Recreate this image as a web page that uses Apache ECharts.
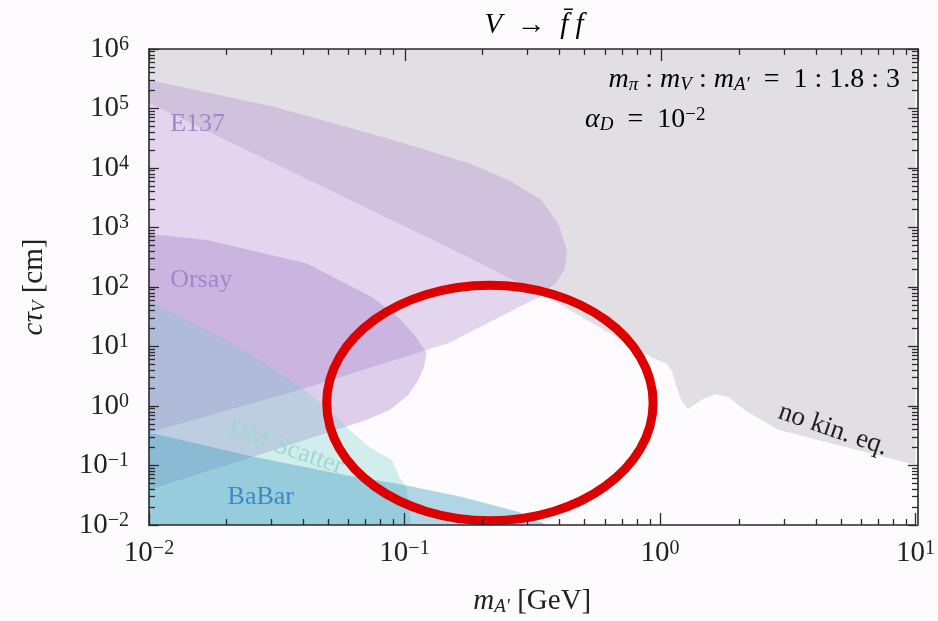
<!DOCTYPE html>
<html>
<head>
<meta charset="utf-8">
<script src="https://cdn.jsdelivr.net/npm/echarts@6/dist/echarts.min.js"></script>
<style>
  html, body { margin: 0; padding: 0; background: #fdfbfd; }
  #chart { width: 938px; height: 621px; }
</style>
</head>
<body>
<div id="chart"></div>
<script>
// region outlines as [m_A' (GeV), c tau_V (cm)]
var noKinEq = [[0.01, 1e6], [10, 1e6], [10, 0.102], [2.90, 0.40], [2.42, 0.63], [2.15, 0.85],
  [1.85, 1.41], [1.64, 1.57], [1.45, 1.26], [1.29, 0.89], [1.21, 1.26], [1.16, 2.1], [1.11, 4.0],
  [1.06, 5.2], [0.925, 6.6], [0.391, 56], [0.179, 314], [0.0241, 2.0e4], [0.01, 1.24e5]];
var e137 = [[0.01, 3.0e5], [0.0305, 1.08e5], [0.0849, 3.2e4], [0.179, 1.2e4], [0.256, 6.3e3],
  [0.344, 2.9e3], [0.402, 1.1e3], [0.432, 414], [0.424, 196], [0.391, 117], [0.336, 68],
  [0.281, 46], [0.149, 11.5], [0.0388, 1.86], [0.01, 0.36]];
var orsay = [[0.01, 776], [0.0168, 617], [0.0413, 251], [0.0748, 67], [0.0953, 30], [0.110, 15],
  [0.122, 7.8], [0.119, 4.4], [0.112, 2.5], [0.103, 1.5], [0.0872, 0.85], [0.0709, 0.58],
  [0.0284, 0.162], [0.01, 0.039]];
var dmScatter = [[0.01, 60], [0.0237, 8.7], [0.0407, 1.86], [0.0532, 0.71], [0.0608, 0.40],
  [0.0728, 0.204], [0.0895, 0.123], [0.0953, 0.065], [0.1016, 0.044], [0.106, 0.01], [0.01, 0.01]];
var babar = [[0.01, 0.36], [0.0248, 0.144], [0.0582, 0.069], [0.0953, 0.049], [0.168, 0.0295],
  [0.281, 0.0166], [0.360, 0.01], [0.01, 0.01]];

var xMajor = [0.01, 0.1, 1, 10];
var yMajor = [1e-2, 1e-1, 1, 10, 1e2, 1e3, 1e4, 1e5, 1e6];

// red ring drawn over the plot (box corners in data units)
var ringX = [0.0496, 0.94];
var ringY = [0.0118, 107];

var FONT = 'Liberation Serif';

function minors(lo, hi) {
  var out = [];
  for (var d = lo; d < hi; d *= 10) {
    for (var k = 2; k <= 9; k++) out.push(+(k * d).toPrecision(3));
  }
  return out;
}
var xMinor = minors(0.01, 10);
var yMinor = minors(0.01, 1e6);

function pow10(v) {
  var e = Math.round(Math.log10(v));
  return '{b|10}{s|' + (e < 0 ? '\u2212' + (-e) : e) + '}';
}
var tickRich = {
  b: { fontFamily: FONT, fontSize: 29, color: '#222' },
  s: { fontFamily: FONT, fontSize: 20, color: '#222', verticalAlign: 'top', padding: [0, 0, 8, 0] }
};
var mathRich = {
  i: { fontFamily: FONT, fontStyle: 'italic', fontWeight: 'normal', fontSize: 29, color: '#222' },
  r: { fontFamily: FONT, fontWeight: 'normal', fontSize: 29, color: '#222' },
  sub: { fontFamily: FONT, fontStyle: 'italic', fontWeight: 'normal', fontSize: 19, color: '#222', verticalAlign: 'bottom', padding: [8, 0, 0, 0] }
};
var noteRich = {
  i: { fontFamily: FONT, fontStyle: 'italic', fontSize: 28, color: '#222' },
  r: { fontFamily: FONT, fontSize: 28, color: '#222' },
  sub: { fontFamily: FONT, fontStyle: 'italic', fontSize: 19, color: '#222', verticalAlign: 'bottom', padding: [8, 0, 0, 0] },
  sup: { fontFamily: FONT, fontSize: 19, color: '#222', verticalAlign: 'top', padding: [0, 0, 6, 0] }
};

var lineCol = '#2a2a2a';
// one grid per tick set, all stacked on the same rectangle; axes on their own layer above the regions
function axis(kind, grid, pos, major, withLabels, extra) {
  var a = {
    type: 'log', logBase: 10, gridIndex: grid, zlevel: 1, z: 10,
    min: 0.01, max: kind === 'x' ? 10 : 1e6,
    position: pos,
    axisLine: { show: major, onZero: false, lineStyle: { color: lineCol, width: 1.6 } },
    axisTick: {
      show: true, inside: true,
      length: major ? (kind === 'x' ? 12 : 10) : 6,
      customValues: major ? (kind === 'x' ? xMajor : yMajor) : (kind === 'x' ? xMinor : yMinor),
      lineStyle: { color: lineCol, width: 1.3 }
    },
    axisLabel: { show: false },
    splitLine: { show: false },
    minorTick: { show: false }
  };
  if (withLabels) {
    a.axisLabel = {
      show: true, customValues: kind === 'x' ? xMajor : yMajor,
      formatter: pow10, rich: tickRich, margin: kind === 'x' ? 14 : 20
    };
  }
  return Object.assign(a, extra || {});
}

function region(name, pts, color) {
  return {
    type: 'custom', name: name, xAxisIndex: 0, yAxisIndex: 0,
    silent: true, animation: false, zlevel: 0, z: 1,
    data: pts,
    renderItem: function (params, api) {
      if (params.dataIndex !== 0) return;
      return {
        type: 'polygon',
        shape: { points: pts.map(function (p) { return api.coord(p); }) },
        style: { fill: color }
      };
    }
  };
}

var box = { left: 149, top: 49, right: 20, bottom: 96 };
var chart = echarts.init(document.getElementById('chart'), null, { renderer: 'canvas' });
chart.setOption({
  backgroundColor: '#fdfbfd',
  animation: false,
  grid: [box, box, box, box],
  xAxis: [
    axis('x', 0, 'bottom', true, true, {
      name: '{i|m}{sub|A\u2032}{r| [GeV]}', nameLocation: 'middle', nameGap: 62,
      nameTextStyle: { rich: mathRich }
    }),
    axis('x', 1, 'bottom', false, false),
    axis('x', 2, 'top', true, false),
    axis('x', 3, 'top', false, false)
  ],
  yAxis: [
    axis('y', 0, 'left', true, true, {
      name: '{i|c\u03c4}{sub|V}{r| [cm]}', nameLocation: 'middle', nameGap: 100, nameRotate: 90,
      nameTextStyle: { rich: mathRich }
    }),
    axis('y', 1, 'left', false, false),
    axis('y', 2, 'right', true, false),
    axis('y', 3, 'right', false, false)
  ],
  series: [
    region('no kin. eq.', noKinEq, '#e2dfe4'),
    region('E137', e137, 'rgba(166,127,203,0.30)'),
    region('Orsay', orsay, 'rgba(160,112,200,0.32)'),
    region('DM Scatter', dmScatter, 'rgba(110,205,200,0.30)'),
    region('BaBar', babar, 'rgba(70,160,195,0.42)')
  ]
});

function px(p) { return chart.convertToPixel({ xAxisIndex: 0, yAxisIndex: 0 }, p); }
function label(text, at, color, size, rot) {
  var p = px(at);
  return {
    type: 'text', x: p[0], y: p[1], z: 50,
    rotation: (rot || 0) * Math.PI / 180,
    style: { text: text, fill: color, font: size + 'px "' + FONT + '"', verticalAlign: 'middle', align: 'left' }
  };
}
var c0 = px([ringX[0], ringY[0]]), c1 = px([ringX[1], ringY[1]]);
chart.setOption({
  graphic: [
    label('E137', [0.0121, 5.5e4], '#9d88cc', 26),
    label('Orsay', [0.0121, 132], '#9d88cc', 26),
    label('BaBar', [0.0203, 0.0295], '#3a8cc6', 26),
    label('DM Scatter', [0.0205, 0.42], '#9fd8d2', 26, -19),
    label('no kin. eq.', [2.93, 0.82], '#222', 27, -19),
    {
      type: 'text', x: 534, y: 25, z: 50,
      style: { text: '{i|V}{r|\u2002\u2192\u2002}{i|f\u0304 f}', rich: mathRich, align: 'center', verticalAlign: 'middle' }
    },
    {
      type: 'text', x: 900, y: 80, z: 50,
      style: { text: '{i|m}{sub|\u03c0}{r| : }{i|m}{sub|V}{r| : }{i|m}{sub|A\u2032}{r|  =  1 : 1.8 : 3}',
        rich: noteRich, align: 'right', verticalAlign: 'middle' }
    },
    {
      type: 'text', x: 585, y: 120, z: 50,
      style: { text: '{i|\u03b1}{sub|D}{r|  =  10}{sup|\u22122}', rich: noteRich, align: 'left', verticalAlign: 'middle' }
    },
    {
      type: 'ellipse', z: 100,
      shape: { cx: (c0[0] + c1[0]) / 2, cy: (c0[1] + c1[1]) / 2,
        rx: Math.abs(c1[0] - c0[0]) / 2, ry: Math.abs(c1[1] - c0[1]) / 2 },
      style: { fill: null, stroke: '#dc0000', lineWidth: 9 }
    }
  ]
});
</script>
</body>
</html>
